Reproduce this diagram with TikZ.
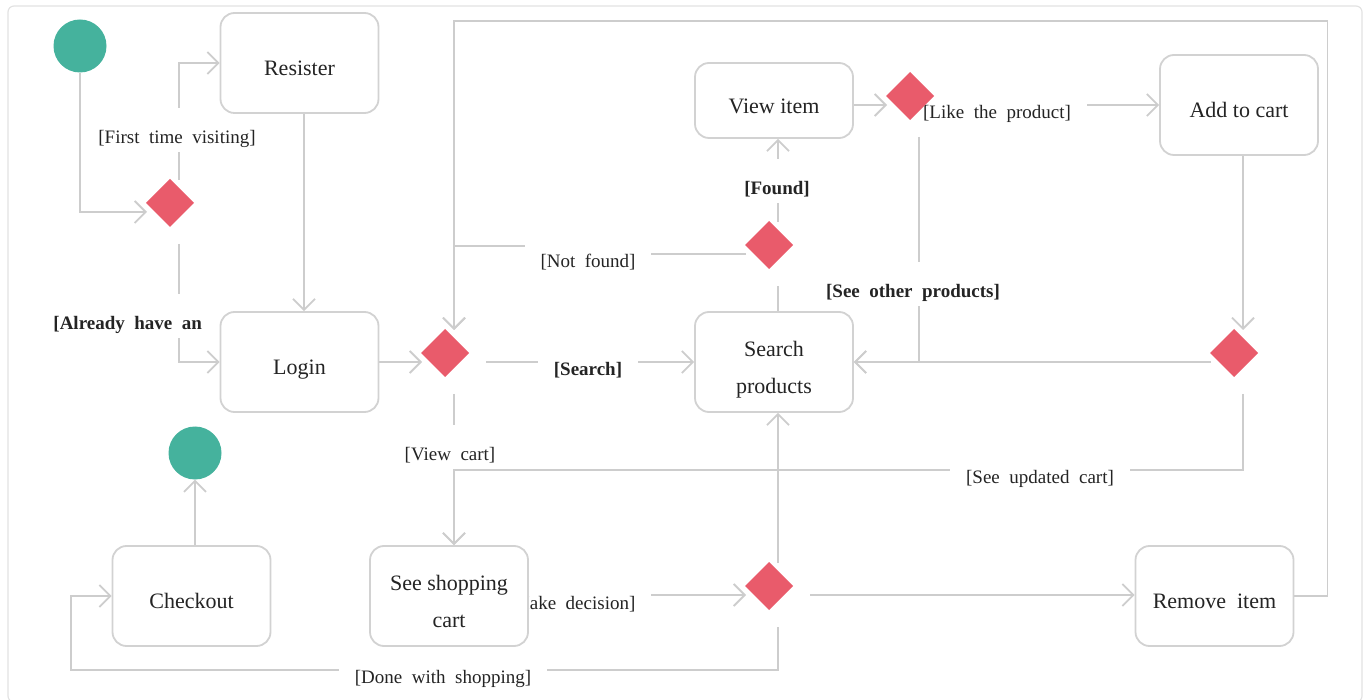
\documentclass[tikz,border=0pt]{standalone}
\usepackage{fontspec}
\setmainfont{Liberation Serif}
\usetikzlibrary{arrows.meta}

\definecolor{startgreen}{HTML}{45B29D}
\definecolor{decred}{HTML}{E95B6B}
\definecolor{linkgray}{HTML}{CDCDCD}
\definecolor{boxgray}{HTML}{D2D2D2}
\definecolor{framegray}{HTML}{E2E2E2}
\definecolor{inkcol}{HTML}{242424}

\newcommand\boxfont{\fontsize{22}{37}\selectfont}
\newcommand\lblfont{\fontsize{19}{22}\selectfont\spaceskip=0.5em plus 0.1em\relax}
% activity text, set a little below the geometric centre
\newcommand\bx[1]{\raisebox{-5.5pt}[\height][\depth]{\begin{tabular}{@{}c@{}}#1\end{tabular}}}
% guard text, set a little below the connector it sits on
\newcommand\gd[1]{\raisebox{-9pt}{#1}}

\pgfdeclarelayer{frame}
\pgfdeclarelayer{links}
\pgfsetlayers{frame,links,main}

\begin{document}
\begin{tikzpicture}[x=1pt, y=-1pt,
  actbox/.style={rectangle, rounded corners=14pt, draw=boxgray, line width=1.8pt,
    fill=white, minimum width=158pt, minimum height=100pt, inner sep=0pt,
    font=\boxfont, text=inkcol},
  decision/.style={circle, minimum size=72pt, inner sep=0pt, outer sep=-4pt,
    path picture={\fill[decred] ([shift={(-9pt,9pt)}]path picture bounding box.center)
      ++(-24pt,0pt) -- ++(24pt,24pt) -- ++(24pt,-24pt) -- ++(-24pt,-24pt) -- cycle;}},
  startstop/.style={circle, fill=startgreen, minimum size=53pt, inner sep=0pt},
  link/.style={draw=linkgray, line width=1.8pt, -{Straight Barb[length=11pt,width=22pt]}},
  plainlink/.style={draw=linkgray, line width=1.8pt},
  guard/.style={fill=white, inner xsep=16pt, inner ysep=13.5pt, text height=13pt,
    text depth=4pt, font=\lblfont, text=inkcol},
  boldguard/.style={guard, font=\lblfont\bfseries}]

\useasboundingbox (0,0) rectangle (1371,700);

\begin{pgfonlayer}{frame}
  \draw[framegray, line width=1.2pt, rounded corners=6pt] (8,6) rectangle (1362,702);
\end{pgfonlayer}

% start and end points
\node[startstop] (start) at (80,46) {};
\node[startstop] (finish) at (195,453) {};

% activities
\node[actbox] (res) at (299.5,63) {\bx{Resister}};
\node[actbox] (login) at (299.5,362) {\bx{Login}};
\node[actbox, minimum height=75pt] (view) at (774,100.5) {\bx{View item}};
\node[actbox] (add) at (1239,105) {\bx{Add to cart}};
\node[actbox] (search) at (774,362) {\bx{Search\\products}};
\node[actbox] (cart) at (449,596) {\bx{See shopping\\cart}};
\node[actbox] (remove) at (1214.5,596) {\bx{Remove\ \ item}};
\node[actbox] (checkout) at (191.5,596) {\bx{Checkout}};

% decisions
\node[decision] (d1) at (179,212) {};
\node[decision] (d2) at (454,362) {};
\node[decision] (dnf) at (778,254) {};
\node[decision] (dlike) at (919,105) {};
\node[decision] (dr) at (1243,362) {};
\node[decision] (dbot) at (778,595) {};

\begin{pgfonlayer}{links}
  % login branch
  \draw[link] (d1.south) |- (login.west);
  \node[boldguard] (lbAlready) at (172,316) {\gd{[Already have an\ \ account]}};
  \draw[link] (d1.north) |- (res.west);
  \node[guard] (lbFirst) at (177,130) {\gd{[First time visiting]}};
  \draw[link] (start.south) |- (d1.west);
  \draw[link] ([xshift=4.5pt]res.south) -- ([xshift=4.5pt]login.north);
  \draw[link] (login.east) -- (d2.west);

  % searching
  \draw[link] (d2.east) -- (search.west);
  \node[boldguard] (lbSearch) at (588,362) {\gd{[Search]}};
  \draw[plainlink] (search.north -| dnf.south) -- (dnf.south);
  \draw[link] (dnf.north) -- (dnf.north |- view.south);
  \node[boldguard] (lbFound) at (777,181) {\gd{[Found]}};
  \draw[link] (dnf.west) -- ++(-158,0) -- ++(0,-8) -| (d2.north);
  \node[guard] (lbNotFound) at (588,254) {\gd{[Not found]}};

  % item and cart
  \draw[link] (view.east |- dlike.west) -- (dlike.west);
  \draw[link] (dlike.east) -- (add.west);
  \node[guard] (lbLike) at (997,105) {\gd{[Like the product]}};
  \draw[link] (dlike.south) |- (search.east);
  \node[boldguard] (lbOther) at (913,284) {\gd{[See other products]}};
  \draw[link] (add.south -| dr.north) -- (dr.north);
  \draw[link] (dr.west) -- (search.east);

  % shopping cart
  \draw[link] (d2.south) -- (d2.south |- cart.north);
  \node[guard] (lbViewCart) at (450,447) {\gd{[View cart]}};
  \draw[link] (dr.south) -- ++(0,76) -| (d2.south |- cart.north);
  \node[guard] (lbUpdated) at (1040,470) {\gd{[See updated cart]}};
  \draw[link] (cart.east |- dbot.west) -- (dbot.west);
  \node[guard] (lbDecision) at (571,596) {\gd{[Make decision]}};
  \draw[link] (dbot.north) -- (dbot.north |- search.south);
  \draw[link] (dbot.east) -- (dbot.east -| remove.west);
  \draw[link] (remove.east) -- ++(33,0) -- ++(0,-575) -| (d2.north);

  % checkout
  \draw[link] (dbot.south) -- ++(0,43) -- ++(-707,0) |- (checkout.west);
  \node[guard] (lbDone) at (443,670) {\gd{[Done with shopping]}};
  \draw[link] (finish.south |- checkout.north) -- (finish.south);
\end{pgfonlayer}

\end{tikzpicture}
\end{document}
